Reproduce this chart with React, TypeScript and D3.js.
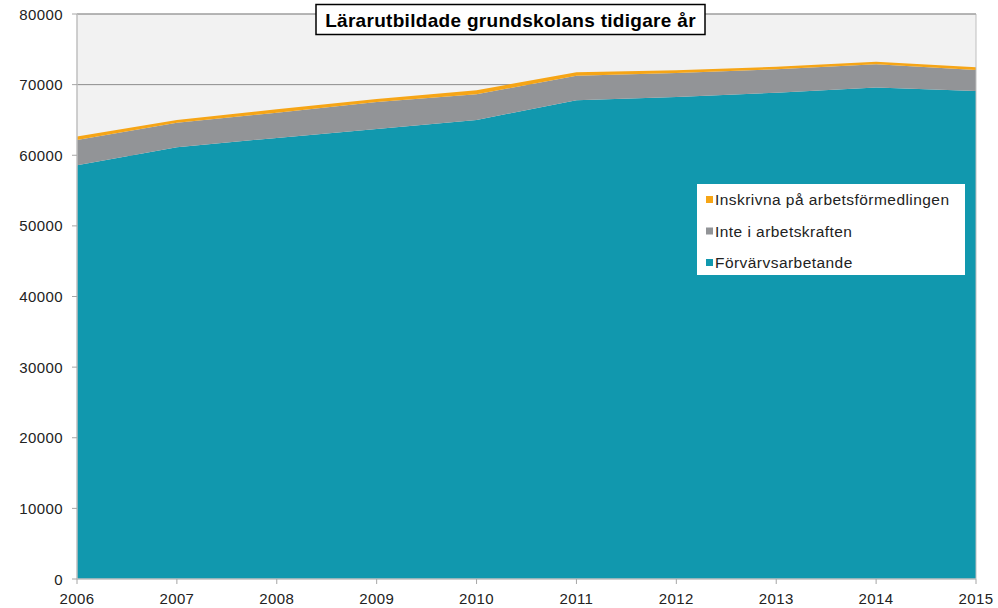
import React from "react";
import * as d3 from "d3";

const years = [2006, 2007, 2008, 2009, 2010, 2011, 2012, 2013, 2014, 2015];
const forvarvsarbetande = [58600, 61150, 62450, 63700, 65000, 67800, 68250, 68850, 69600, 69100];
const inteIArbetskraften = [3550, 3450, 3580, 3840, 3640, 3470, 3400, 3320, 3280, 2970];
const inskrivna = [520, 400, 480, 430, 580, 480, 380, 370, 370, 380];
const yTicks = [0, 10000, 20000, 30000, 40000, 50000, 60000, 70000, 80000];

const seriesNames = ["Förvärvsarbetande", "Inte i arbetskraften", "Inskrivna på arbetsförmedlingen"];
const colors = ["#1198AE", "#929497", "#F6A516"];
const title = "Lärarutbildade grundskolans tidigare år";

export default function App() {
  const W = 998, H = 608;
  const left = 77, right = 976, top = 14, bottom = 579;
  const x = d3.scaleLinear().domain([2006, 2015]).range([left, right]);
  const y = d3.scaleLinear().domain([0, 80000]).range([bottom, top]);

  const rows = years.map((yr, i) => ({
    year: yr,
    a: forvarvsarbetande[i],
    b: inteIArbetskraften[i],
    c: inskrivna[i],
  }));
  const stack = d3.stack<any>().keys(["a", "b", "c"]);
  const series = stack(rows);
  const area = d3
    .area<any>()
    .x((d) => x(d.data.year))
    .y0((d) => y(d[0]))
    .y1((d) => y(d[1]));

  const font = "'Liberation Sans', Arial, sans-serif";
  const legendItems = [2, 1, 0];

  return (
    <svg width={W} height={H} style={{ position: "absolute", left: 0, top: 0, fontFamily: font }}>
      <rect x={0} y={0} width={W} height={H} fill="#ffffff" />
      <rect x={left} y={top} width={right - left} height={bottom - top} fill="#F2F2F2" />
      {yTicks.slice(1).map((t) => (
        <line key={t} x1={left} x2={right} y1={y(t)} y2={y(t)} stroke="#8c8c8c" strokeWidth={1} />
      ))}
      {series.map((s, i) => (
        <path key={i} d={area(s as any) || ""} fill={colors[i]} />
      ))}
      <line x1={right} x2={right} y1={top} y2={bottom} stroke="#bfbfbf" strokeWidth={1} />
      <line x1={left} x2={right} y1={top} y2={top} stroke="#a6a6a6" strokeWidth={1} />
      {/* axes */}
      <line x1={left} x2={left} y1={top} y2={bottom} stroke="#bfbfbf" strokeWidth={1.5} />
      <line x1={left} x2={right} y1={bottom} y2={bottom} stroke="#bfbfbf" strokeWidth={1.5} />
      {yTicks.map((t) => (
        <g key={t}>
          <line x1={left - 5} x2={left} y1={y(t)} y2={y(t)} stroke="#a6a6a6" />
          <text x={63} y={y(t) + 5.5} textAnchor="end" fontSize={15} letterSpacing={0.4} fill="#222">
            {t}
          </text>
        </g>
      ))}
      {years.map((yr) => (
        <g key={yr}>
          <line x1={x(yr)} x2={x(yr)} y1={bottom} y2={bottom + 5} stroke="#a6a6a6" />
          <text x={x(yr)} y={604} textAnchor="middle" fontSize={15} letterSpacing={0.4} fill="#222">
            {yr}
          </text>
        </g>
      ))}
      {/* title */}
      <rect x={316} y={4.5} width={389} height={30} fill="#fff" stroke="#000" strokeWidth={1.5} />
      <text x={510.5} y={27} textAnchor="middle" fontSize={19} letterSpacing={0.3} fontWeight="bold" fill="#000">
        {title}
      </text>
      {/* legend */}
      <rect x={697} y={184} width={268} height={91} fill="#fff" />
      {legendItems.map((si, j) => (
        <g key={si}>
          <rect x={706} y={196 + j * 31.5} width={7} height={7} fill={colors[si]} />
          <text x={715} y={205 + j * 31.5} fontSize={15.5} letterSpacing={0.45} fill="#222">
            {seriesNames[si]}
          </text>
        </g>
      ))}
    </svg>
  );
}
